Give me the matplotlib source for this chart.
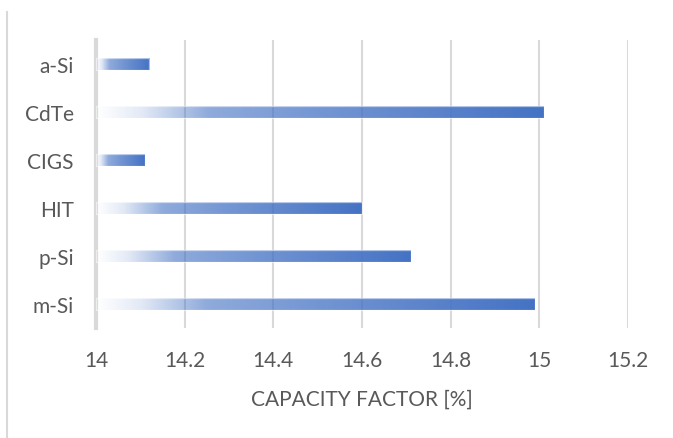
import numpy as np
import matplotlib
matplotlib.use("Agg")
import matplotlib.pyplot as plt
from matplotlib.colors import to_rgb
from matplotlib.lines import Line2D

categories = ["m-Si", "p-Si", "HIT", "CIGS", "CdTe", "a-Si"]
capacity_factor = [14.99, 14.71, 14.60, 14.11, 15.01, 14.12]
x_ticks = [14, 14.2, 14.4, 14.6, 14.8, 15, 15.2]
x_tick_labels = ["14", "14.2", "14.4", "14.6", "14.8", "15", "15.2"]
x_label = "CAPACITY FACTOR [%]"

plt.rcParams['font.family'] = ['Lato', 'DejaVu Sans']
text_color = "#595959"
grid_color = "#d9d9d9"
bar_rgb = np.array(to_rgb("#4472C4"))

fig = plt.figure(figsize=(6.73, 4.39), dpi=100)
ax = fig.add_axes([96 / 673, 1 - 329 / 439, (628 - 96) / 673, (329 - 41) / 439])

base = 14.0
ypos = np.arange(len(categories))
bars = ax.barh(ypos, np.array(capacity_factor) - base, left=base, height=0.245,
               facecolor="none", edgecolor=(1, 1, 1, 0.55), linewidth=0.9, zorder=3)

# gradient (transparent -> blue) inside each bar
n = 256
t = np.linspace(0, 1, n)
alpha = np.interp(t, [0, 0.1, 0.25, 0.5, 1.0], [0.0, 0.15, 0.6, 0.75, 1.0])
rgba = np.zeros((1, n, 4))
rgba[0, :, :3] = bar_rgb
rgba[0, :, 3] = alpha
for b in bars:
    x0, y0 = b.get_x(), b.get_y()
    w, h = b.get_width(), b.get_height()
    im = ax.imshow(rgba, extent=(x0, x0 + w, y0, y0 + h), aspect="auto",
                   interpolation="bilinear", zorder=2)
    im.set_clip_path(b)

ax.set_xlim(14, 15.2)
ax.set_ylim(-0.5, len(categories) - 0.5)
ax.set_xticks(x_ticks)
ax.set_xticklabels(x_tick_labels)
ax.set_yticks(ypos)
ax.set_yticklabels(categories)
ax.tick_params(axis="both", length=0, labelsize=15, labelcolor=text_color)
ax.tick_params(axis="x", pad=16)
ax.tick_params(axis="y", pad=16)

ax.grid(axis="x", color=grid_color, linewidth=1.5, zorder=1)
ax.grid(axis="y", visible=False)
ax.set_axisbelow(True)
for s in ["top", "right", "bottom"]:
    ax.spines[s].set_visible(False)
ax.spines["left"].set_color(grid_color)
ax.spines["left"].set_linewidth(3)

ax.set_xlabel(x_label, fontsize=15, color=text_color, labelpad=13)

# chart-area border on left side
fig.add_artist(Line2D([7 / 673, 7 / 673], [0, 1 - 13 / 439], transform=fig.transFigure,
                      color=grid_color, linewidth=1.5))

fig.savefig("out.png", dpi=100)
